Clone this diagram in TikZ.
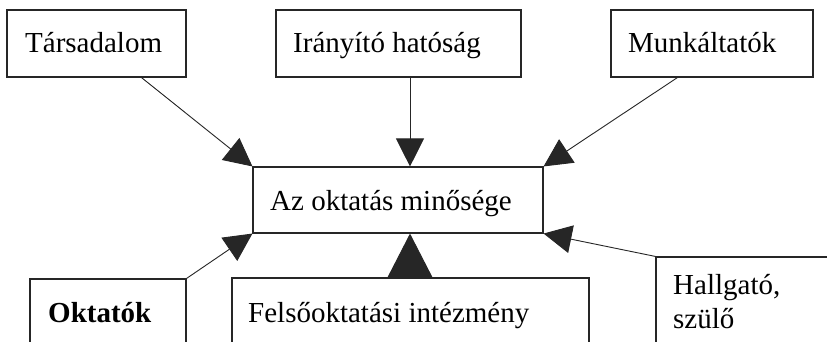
\documentclass[tikz,border=0pt]{standalone}
\usepackage{fontspec}
\setmainfont{Liberation Serif}
\usetikzlibrary{arrows.meta}
\begin{document}
\begin{tikzpicture}[x=1pt,y=-1pt,
  box/.style={draw=black!85, line width=1.1pt, rectangle, inner sep=0pt},
  lbl/.style={inner sep=0pt, anchor=base west, font=\fontsize{29}{34}\selectfont},
  conn/.style={draw=black!85, line width=0.9pt, -{Triangle[length=28pt,width=28pt]}},
  bigconn/.style={draw=black!85, line width=0.9pt, -{Triangle[length=44pt,width=45pt]}}]
\clip (0,0) rectangle (827,342);
\fill[white] (0,0) rectangle (827,342);
% boxes
\node[box, minimum width=179pt, minimum height=67pt] (tars) at (96.5,43.5) {};
\node[box, minimum width=245pt, minimum height=67pt] (iran) at (398.5,43.5) {};
\node[box, minimum width=202pt, minimum height=67pt] (munk) at (712,43.5) {};
\node[box, minimum width=290pt, minimum height=66pt] (cen) at (398,200) {};
\node[box, minimum width=156pt, minimum height=101pt] (okt) at (108,329.5) {};
\node[box, minimum width=357pt, minimum height=102pt] (fels) at (410.5,329) {};
\node[box, minimum width=244pt, minimum height=123pt] (hall) at (778,318.5) {};
% labels
\node[lbl] (tarsT) at (25,53) {Társadalom};
\node[lbl] (iranT) at (293,53) {Irányító hatóság};
\node[lbl] (munkT) at (628,53) {Munkáltatók};
\node[lbl] (cenT) at (270,210) {Az oktatás minősége};
\node[lbl, font=\fontsize{29}{34}\selectfont\bfseries] (oktT) at (48,322) {Oktatók};
\node[lbl] (felsT) at (248,322) {Felsőoktatási intézmény};
\node[lbl] (hallT1) at (673,294) {Hallgató,};
\node[lbl] (hallT2) at (673,328) {szülő};
% connector points
\coordinate (ctop) at ([xshift=12pt]cen.north);
\coordinate (cbot) at ([xshift=12pt]cen.south);
% connectors
\draw[conn] ([xshift=135pt]tars.south west) -- (cen.north west);
\draw[conn] (ctop |- iran.south) -- (ctop);
\draw[conn] ([xshift=67pt]munk.south west) -- (cen.north east);
\draw[conn] (okt.north east) -- (cen.south west);
\draw[bigconn] (cbot |- fels.north) -- (cbot);
\draw[conn] (hall.north west) -- (cen.south east);
\end{tikzpicture}
\end{document}
